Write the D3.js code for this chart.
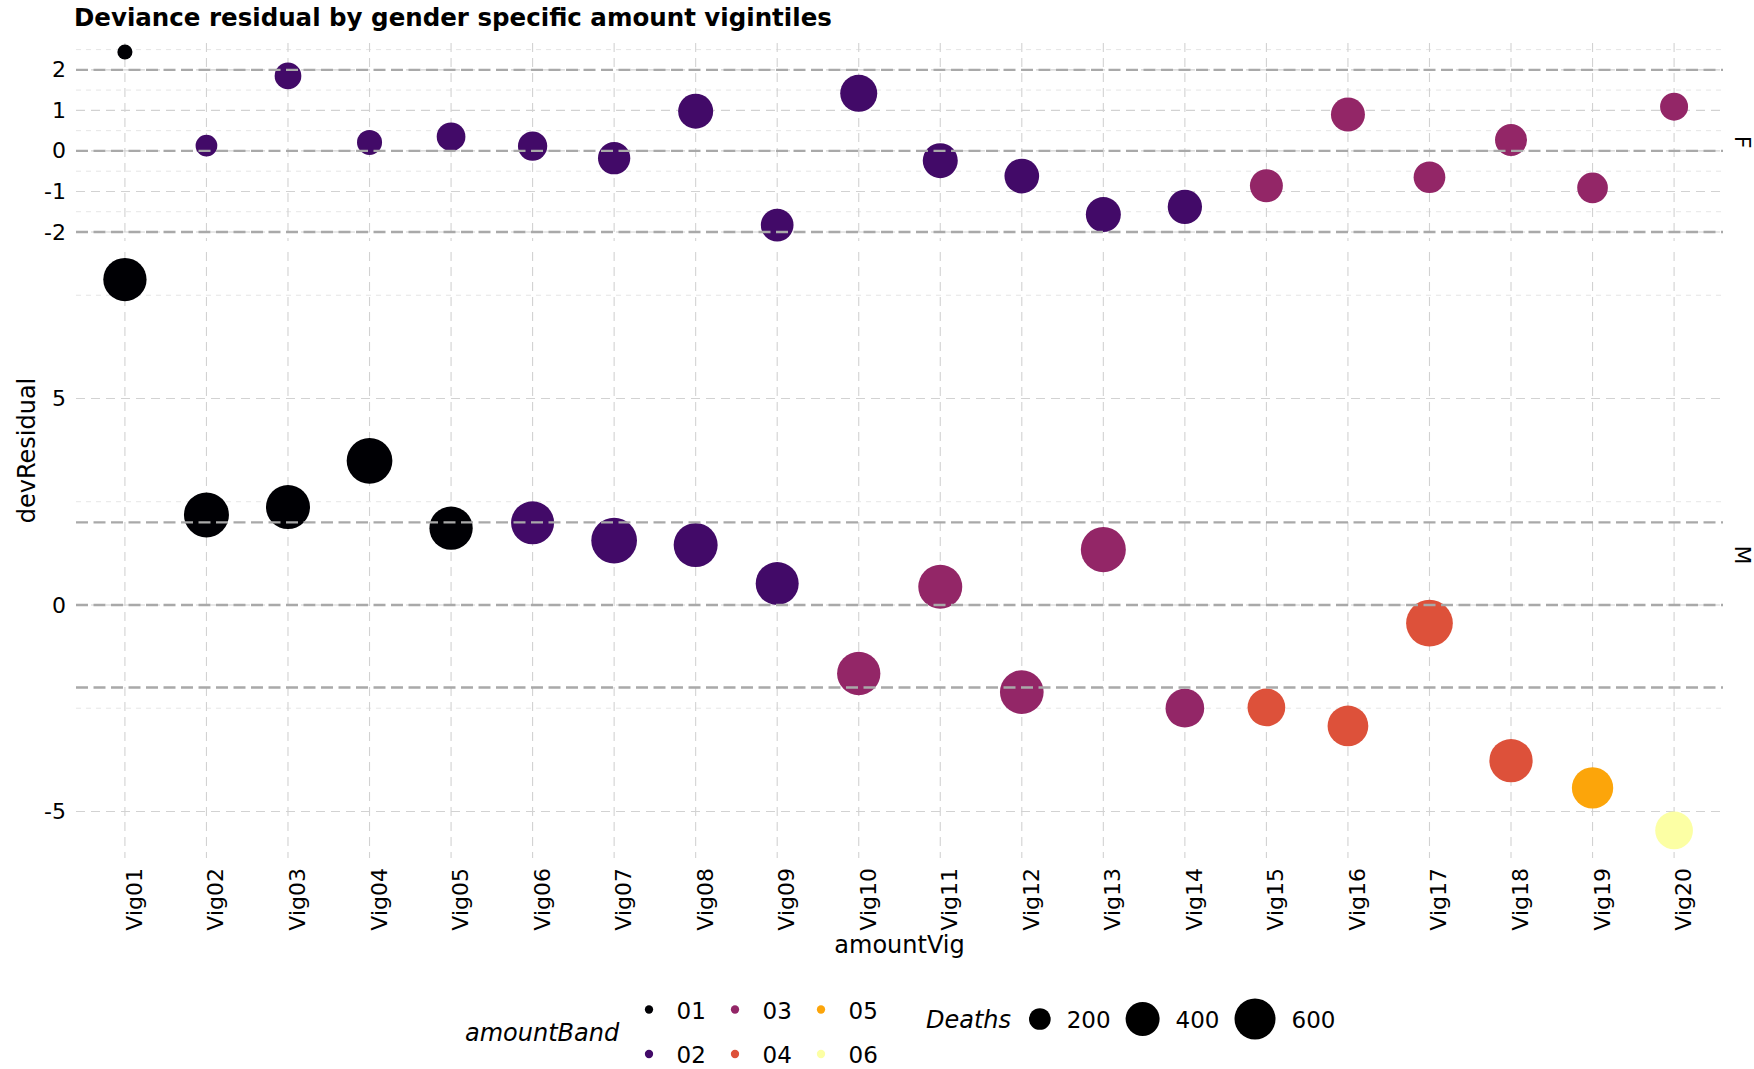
<!DOCTYPE html>
<html>
<head>
<meta charset="utf-8">
<script src="https://cdn.jsdelivr.net/npm/d3@7"></script>
<style>
  body { margin: 0; background: #ffffff; }
  svg { display: block; }
  text { font-family: "DejaVu Sans", sans-serif; fill: #000000; }
</style>
</head>
<body>
<svg id="chart" width="1754" height="1069"></svg>
<script>
// ---- data -------------------------------------------------------------
const vigintiles = ["Vig01","Vig02","Vig03","Vig04","Vig05","Vig06","Vig07","Vig08","Vig09","Vig10",
                    "Vig11","Vig12","Vig13","Vig14","Vig15","Vig16","Vig17","Vig18","Vig19","Vig20"];
const genders = ["F", "M"];

const residualF = [2.44, 0.13, 1.85, 0.21, 0.35, 0.12, -0.18, 0.98, -1.83, 1.42,
                   -0.24, -0.62, -1.57, -1.38, -0.86, 0.90, -0.65, 0.27, -0.91, 1.09];
const residualM = [7.88, 2.18, 2.37, 3.49, 1.86, 1.99, 1.56, 1.45, 0.52, -1.66,
                   0.44, -2.11, 1.34, -2.50, -2.48, -2.93, -0.44, -3.77, -4.43, -5.46];

const deathsF = [172, 200, 258, 235, 290, 301, 361, 425, 370, 478,
                 425, 417, 425, 407, 376, 400, 348, 354, 327, 278];
const deathsM = [679, 742, 704, 769, 679, 668, 769, 704, 668, 679,
                 704, 693, 742, 527, 498, 590, 808, 679, 610, 498];

const bandF = ["01","02","02","02","02","02","02","02","02","02",
               "02","02","02","02","03","03","03","03","03","03"];
const bandM = ["01","01","01","01","01","02","02","02","02","03",
               "03","03","03","03","04","04","04","04","05","06"];

const amountBands = ["01", "02", "03", "04", "05", "06"];
const bandColours = ["#000004", "#420A68", "#932667", "#DD513A", "#FCA50A", "#FCFFA4"];

const refLines = [-2, 0, 2];
const ticksF = [-2, -1, 0, 1, 2];
const ticksM = [-5, 0, 5];
const deathsBreaks = [200, 400, 600];

// ---- layout -----------------------------------------------------------
const svg = d3.select("#chart");
const plotLeft = 76, plotRight = 1723;
const panelBox = { F: [43, 241], M: [252, 858] };

const rows = [
  { g: "F", res: residualF, deaths: deathsF, band: bandF, ticks: ticksF },
  { g: "M", res: residualM, deaths: deathsM, band: bandM, ticks: ticksM }
];

const x = d3.scalePoint().domain(vigintiles).range([plotLeft, plotRight]).padding(0.6);

const colour = d3.scaleOrdinal().domain(amountBands).range(bandColours);

// size: radius grows with the square root of the rescaled death count
const allDeaths = deathsF.concat(deathsM);
const deathsUnit = d3.scaleLinear().domain(d3.extent(allDeaths)).range([0, 1]).clamp(true);
const radiusOf = d3.scaleLinear().domain([0, 1]).range([7.53, 23.35]);
const radius = d => radiusOf(Math.sqrt(deathsUnit(d)));

// expanded y domain for each panel (5% each side, reference lines included)
function expandedDomain(values) {
  const lo = d3.min(values.concat(refLines)), hi = d3.max(values.concat(refLines));
  const pad = (hi - lo) * 0.05;
  return [lo - pad, hi + pad];
}

const gridMajor = { stroke: "#d2d2d2", width: 1.1, dash: "9,6" };
const gridMinor = { stroke: "#e2e2e2", width: 0.9, dash: "5,5" };

// title
svg.append("text")
  .attr("x", 74).attr("y", 26)
  .style("font-size", "24.5px").style("font-weight", "bold")
  .text("Deviance residual by gender specific amount vigintiles");

rows.forEach(row => {
  const [top, bottom] = panelBox[row.g];
  const y = d3.scaleLinear().domain(expandedDomain(row.res)).range([bottom, top]);
  const [d0, d1] = y.domain();
  const panel = svg.append("g").attr("class", "panel-" + row.g);

  // minor grid: halfway between major ticks
  const step = row.ticks[1] - row.ticks[0];
  const minor = d3.range(row.ticks[0] - step / 2, row.ticks[row.ticks.length - 1] + step, step)
    .filter(v => v >= d0 && v <= d1);
  panel.selectAll("line.minor").data(minor).join("line")
    .attr("x1", plotLeft).attr("x2", plotRight)
    .attr("y1", d => y(d)).attr("y2", d => y(d))
    .attr("stroke", gridMinor.stroke).attr("stroke-width", gridMinor.width)
    .attr("stroke-dasharray", gridMinor.dash);

  // major grid
  panel.selectAll("line.majorY").data(row.ticks).join("line")
    .attr("x1", plotLeft).attr("x2", plotRight)
    .attr("y1", d => y(d)).attr("y2", d => y(d))
    .attr("stroke", gridMajor.stroke).attr("stroke-width", gridMajor.width)
    .attr("stroke-dasharray", gridMajor.dash);
  panel.selectAll("line.majorX").data(vigintiles).join("line")
    .attr("x1", d => x(d)).attr("x2", d => x(d))
    .attr("y1", top).attr("y2", bottom)
    .attr("stroke", gridMajor.stroke).attr("stroke-width", gridMajor.width)
    .attr("stroke-dasharray", gridMajor.dash);

  // points
  const pts = vigintiles.map((v, i) => ({ v, res: row.res[i], deaths: row.deaths[i], band: row.band[i] }));
  panel.selectAll("circle").data(pts).join("circle")
    .attr("cx", d => x(d.v)).attr("cy", d => y(d.res))
    .attr("r", d => radius(d.deaths))
    .attr("fill", d => colour(d.band));

  // reference lines at -2, 0, 2
  panel.selectAll("line.ref").data(refLines).join("line")
    .attr("x1", plotLeft).attr("x2", plotRight)
    .attr("y1", d => y(d)).attr("y2", d => y(d))
    .attr("stroke", "#a9a9a9").attr("stroke-width", 2.4)
    .attr("stroke-dasharray", "12,5.5");

  // y axis
  const ax = svg.append("g").attr("transform", `translate(${plotLeft},0)`)
    .call(d3.axisLeft(y).tickValues(row.ticks).tickSize(0).tickPadding(10).tickFormat(d => String(d)));
  ax.select(".domain").remove();
  ax.selectAll("text").style("font-size", "22px").attr("fill", "#000");

  // facet strip label
  svg.append("text")
    .attr("transform", `translate(1735,${(top + bottom) / 2}) rotate(90)`)
    .attr("text-anchor", "middle")
    .style("font-size", "22px")
    .text(row.g);
});

// x axis
const xa = svg.append("g").attr("transform", `translate(0,${panelBox.M[1]})`)
  .call(d3.axisBottom(x).tickSize(0));
xa.select(".domain").remove();
xa.selectAll("text")
  .attr("transform", "rotate(-90)")
  .attr("x", -10).attr("y", 16.5).attr("dy", 0)
  .style("text-anchor", "end")
  .style("font-size", "22px").attr("fill", "#000");

// axis titles
svg.append("text")
  .attr("x", (plotLeft + plotRight) / 2).attr("y", 953)
  .attr("text-anchor", "middle").style("font-size", "24px")
  .text("amountVig");
svg.append("text")
  .attr("transform", `translate(34.5,${(panelBox.F[0] + panelBox.M[1]) / 2}) rotate(-90)`)
  .attr("text-anchor", "middle").style("font-size", "24px")
  .text("devResidual");

// ---- legends ----------------------------------------------------------
const legend = svg.append("g");
legend.append("text")
  .attr("x", 465).attr("y", 1041)
  .style("font-size", "24px").style("font-style", "italic")
  .text("amountBand");

const colKeys = legend.selectAll("g.band").data(amountBands).join("g")
  .attr("transform", (d, i) => `translate(${649 + Math.floor(i / 2) * 86},${1009.5 + (i % 2) * 44.5})`);
colKeys.append("circle").attr("r", 4.15).attr("fill", d => colour(d));
colKeys.append("text").attr("x", 27.5).attr("y", 9)
  .style("font-size", "23px").text(d => d);

legend.append("text")
  .attr("x", 926).attr("y", 1028)
  .style("font-size", "24px").style("font-style", "italic")
  .text("Deaths");

let cursor = 1029;
deathsBreaks.forEach(b => {
  const r = radius(b);
  legend.append("circle").attr("cx", cursor + r).attr("cy", 1019).attr("r", r).attr("fill", "#000");
  const t = legend.append("text").attr("x", cursor + 2 * r + 16).attr("y", 1027.7)
    .style("font-size", "23px").text(b);
  cursor = cursor + 2 * r + 16 + t.node().getComputedTextLength() + 15;
});
</script>
</body>
</html>
